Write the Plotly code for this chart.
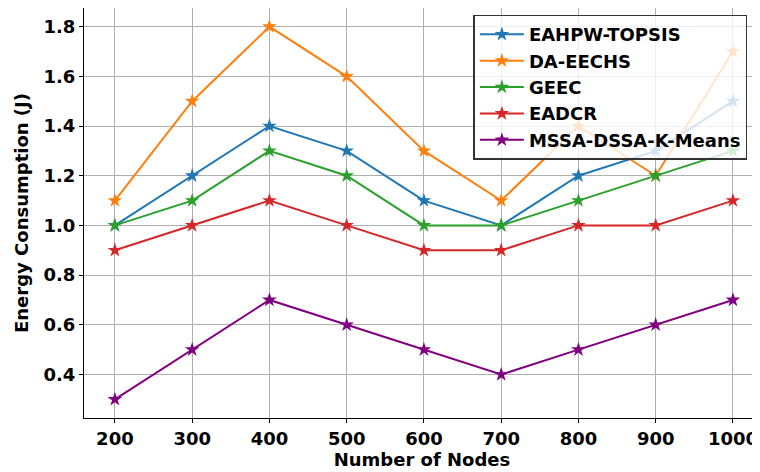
import plotly.graph_objects as go

nodes = [200, 300, 400, 500, 600, 700, 800, 900, 1000]
eahpw_topsis = [1.0, 1.2, 1.4, 1.3, 1.1, 1.0, 1.2, 1.3, 1.5]
da_eechs = [1.1, 1.5, 1.8, 1.6, 1.3, 1.1, 1.4, 1.2, 1.7]
geec = [1.0, 1.1, 1.3, 1.2, 1.0, 1.0, 1.1, 1.2, 1.3]
eadcr = [0.9, 1.0, 1.1, 1.0, 0.9, 0.9, 1.0, 1.0, 1.1]
mssa_dssa = [0.3, 0.5, 0.7, 0.6, 0.5, 0.4, 0.5, 0.6, 0.7]
y_ticks = [0.4, 0.6, 0.8, 1.0, 1.2, 1.4, 1.6, 1.8]

series = [
    ("EAHPW-TOPSIS", eahpw_topsis, "#1f77b4"),
    ("DA-EECHS", da_eechs, "#ff7f0e"),
    ("GEEC", geec, "#2ca02c"),
    ("EADCR", eadcr, "#d62728"),
    ("MSSA-DSSA-K-Means", mssa_dssa, "#800080"),
]

fig = go.Figure()
for name, vals, col in series:
    fig.add_trace(go.Scatter(
        x=nodes, y=vals, name=name, mode="lines+markers",
        line=dict(color=col, width=2),
        marker=dict(symbol="star", size=11, color=col),
    ))

font = "DejaVu Sans"
fig.update_layout(
    width=752, height=464,
    margin=dict(l=76, r=0, t=0, b=54, autoexpand=False),
    paper_bgcolor="white", plot_bgcolor="white",
    font=dict(family=font, size=18, color="black"),
    showlegend=True,
    legend=dict(
        x=0.576, y=0.984, xanchor="left", yanchor="top",
        bgcolor="rgba(255,255,255,0.8)", bordercolor="#333333", borderwidth=1.5,
        font=dict(family=font, size=18, color="black", weight="bold"),
        tracegroupgap=0, itemwidth=44,
    ),
    xaxis=dict(
        range=[160, 1035], tickvals=nodes,
        ticktext=[f"<b>{n}</b>" for n in nodes],
        showgrid=True, gridcolor="#b0b0b0", gridwidth=1,
        showline=True, linecolor="black", linewidth=1.2, mirror=True,
        ticks="outside", ticklen=4, tickcolor="black",
        tickfont=dict(size=18), automargin=False,
        title=dict(text="<b>Number of Nodes</b>", font=dict(size=18), standoff=4),
        zeroline=False,
    ),
    yaxis=dict(
        range=[0.225, 1.875], tickvals=y_ticks,
        ticktext=[f"<b>{v:.1f}</b>" for v in y_ticks],
        showgrid=True, gridcolor="#b0b0b0", gridwidth=1,
        showline=True, linecolor="black", linewidth=1.2,
        ticks="outside", ticklen=4, tickcolor="black",
        tickfont=dict(size=18), automargin=False,
        title=dict(text="<b>Energy Consumption (J)</b>", font=dict(size=18), standoff=10),
        zeroline=False,
    ),
)

fig.write_html("out.html")
